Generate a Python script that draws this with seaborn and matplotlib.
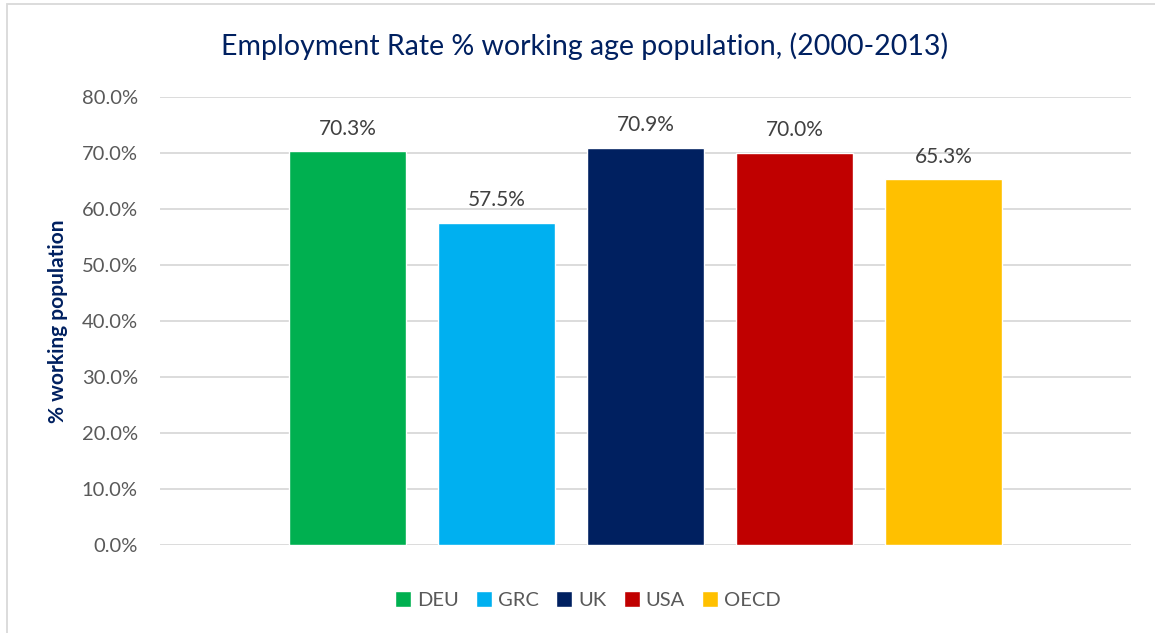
import matplotlib
matplotlib.use("Agg")
import matplotlib.pyplot as plt
from matplotlib.patches import Rectangle
from matplotlib.ticker import FuncFormatter
import seaborn as sns
import pandas as pd

countries = ["DEU", "GRC", "UK", "USA", "OECD"]
rates = [70.3, 57.5, 70.9, 70.0, 65.3]
colors = ["#00B050", "#00B0F0", "#002060", "#C00000", "#FFC000"]
y_ticks = [0, 10, 20, 30, 40, 50, 60, 70, 80]

title = "Employment Rate % working age population, (2000-2013)"
y_label = "% working population"

sns.set_theme(style="white")
plt.rcParams["font.family"] = ["Lato", "DejaVu Sans"]

df = pd.DataFrame({"country": countries, "rate": rates})

fig = plt.figure(figsize=(11.55, 6.33), dpi=100)
ax = fig.add_axes([160 / 1155, 1 - 545 / 633, (1131 - 160) / 1155, (545 - 97) / 633])

sns.barplot(data=df, x="country", y="rate", hue="country", palette=colors,
            order=countries, hue_order=countries, width=0.79, dodge=False,
            legend=True, ax=ax, saturation=1)

for container in ax.containers:
    ax.bar_label(container, fmt="%.1f%%", padding=9, fontsize=15, color="#404040")

ax.set_ylim(0, 80)
ax.set_xlim(-1.26, 5.26)
ax.set_yticks(y_ticks)
ax.yaxis.set_major_formatter(FuncFormatter(lambda v, p: f"{v:.1f}%"))
ax.tick_params(axis="y", labelsize=14.5, labelcolor="#595959", length=0, pad=16)
ax.set_xticks([])
ax.set_xlabel("")
ax.set_ylabel(y_label, fontsize=15, fontweight="bold", color="#002060", labelpad=10)
ax.yaxis.grid(True, color="#D9D9D9", linewidth=1.3)
ax.set_axisbelow(True)
for s in ax.spines.values():
    s.set_visible(False)

sns.move_legend(ax, "center", bbox_to_anchor=(588 / 1155, (633 - 600) / 633),
                bbox_transform=fig.transFigure, ncol=5, frameon=False, title=None,
                fontsize=14.5, handlelength=0.8, handleheight=0.8, handletextpad=0.3,
                columnspacing=0.85)
for t in ax.get_legend().get_texts():
    t.set_color("#595959")

fig.text(585 / 1155, 1 - 46 / 633, title, ha="center", va="center", fontsize=20.5,
         color="#002060")

# chart-area border along the top and left edges
fig.patches.append(Rectangle((7 / 1155, -0.05), 1.2, 1 - 4 / 633 + 0.05,
                             transform=fig.transFigure, fill=False,
                             edgecolor="#D9D9D9", linewidth=1.3))

fig.savefig("out.png", dpi=100)
